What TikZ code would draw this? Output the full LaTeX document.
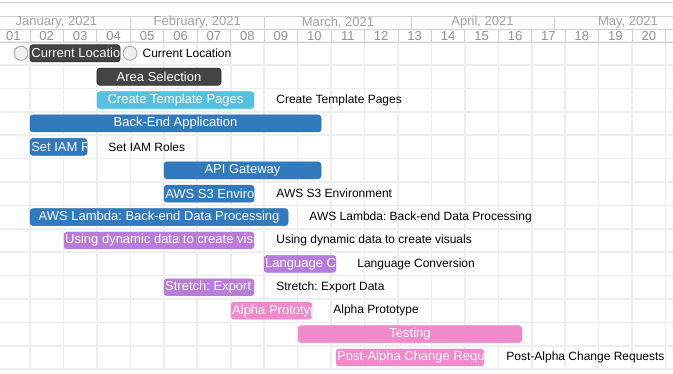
\documentclass[tikz,border=0pt]{standalone}
\usepackage{fontspec}
\setmainfont{Liberation Sans}
\usetikzlibrary{positioning}
\frenchspacing
\definecolor{gantdark}{RGB}{68,68,68}
\definecolor{gantcyan}{RGB}{86,192,224}
\definecolor{gantblue}{RGB}{49,122,190}
\definecolor{gantpurple}{RGB}{185,124,218}
\definecolor{gantpink}{RGB}{240,138,202}
\definecolor{headline}{RGB}{208,208,208}
\definecolor{headtext}{RGB}{160,160,160}
\definecolor{gridgray}{RGB}{238,238,238}
\tikzset{
  bar/.style={
    rectangle, rounded corners=3pt, minimum height=17pt, inner sep=0pt,
    text=white, font=\fontsize{13}{15}\selectfont
  },
  bardark/.style={bar, fill=gantdark, draw=gantdark!60!black, line width=0.8pt},
  barcyan/.style={bar, fill=gantcyan, draw=gantcyan},
  barblue/.style={bar, fill=gantblue, draw=gantblue!90!black, line width=0.5pt},
  barpurple/.style={bar, fill=gantpurple, draw=gantpurple},
  barpink/.style={bar, fill=gantpink, draw=gantpink},
  cliptext/.style={
    path picture={
      \node[anchor=west, inner sep=1pt, text=white,
            font=\fontsize{13}{15}\selectfont]
        at (path picture bounding box.west) {#1};
    }
  },
  extlabel/.style={inner sep=0pt, font=\fontsize{12}{14}\selectfont, text=black},
  milestone/.style={
    circle, minimum size=14pt, inner sep=0pt, draw=gray!75, fill=gray!12,
    line width=0.8pt
  },
  monthlabel/.style={font=\fontsize{13}{15}\selectfont, text=headtext, inner sep=0pt},
  weeklabel/.style={font=\fontsize{13}{15}\selectfont, text=headtext!90!black, inner sep=0pt},
  gridline/.style={draw=gridgray, line width=1.6pt},
  headrule/.style={draw=headline, line width=0.9pt}
}

\begin{document}
\begin{tikzpicture}[x=1pt, y=-1pt]
  \useasboundingbox[fill=white] (0,0) rectangle (673,374);

  % body grid
  \foreach \i in {0,...,14}
    \draw[gridline] (0,{41.6+23.4*\i}) -- (673,{41.6+23.4*\i});
  \foreach \k in {0,...,19}
    \draw[gridline] ({30+33.45*\k},41.6) -- ({30+33.45*\k},369.2);

  % header
  \draw[headrule] (0,2.5) -- (673,2.5);
  \draw[headrule] (0,16) -- (673,16);
  \draw[headrule] (0,29) -- (673,29);
  \draw[headrule] (0,42) -- (673,42);
  \foreach \x in {130.4,264,411.7,554}
    \draw[headrule] (\x,16) -- (\x,29);
  \foreach \k in {0,...,19}
    \draw[headrule] ({30+33.45*\k},29) -- ({30+33.45*\k},42);

  \node[monthlabel] (jan) at (56.4,22.6) {January, 2021};
  \node[monthlabel] (feb) at (197.2,22.6) {February, 2021};
  \node[monthlabel] (mar) at (338,22.6) {March, 2021};
  \node[monthlabel] (apr) at (482.5,22.6) {April, 2021};
  \node[monthlabel] (may) at (628,22.6) {May, 2021};

  \foreach \w [count=\n] in {01,02,03,04,05,06,07,08,09,10,11,12,13,14,15,16,17,18,19,20}
    \node[weeklabel] (wk\n) at ({30+33.45*(\n-1.5)},35.8) {\w};

  % tasks
  \node[milestone] (locstart) at (21,53.3) {};
  \node[bardark, minimum width=90pt, cliptext={Current Location}] (loc) at (75,53.3) {};
  \node[milestone] (locend) at (130,53.3) {};
  \node[extlabel, right=22pt of loc] (loclbl) {Current Location};

  \node[bardark, minimum width=124pt] (area) at (159,76.7) {Area Selection};

  \node[barcyan, minimum width=157pt] (tmpl) at (175.5,100.1) {Create Template Pages};
  \node[extlabel, right=22pt of tmpl] (tmpllbl) {Create Template Pages};

  \node[barblue, minimum width=291pt] (back) at (175.5,123.5) {Back-End Application};

  \node[barblue, minimum width=57pt, cliptext={Set IAM Roles}] (iam) at (58.5,146.9) {};
  \node[extlabel, right=21pt of iam] (iamlbl) {Set IAM Roles};

  \node[barblue, minimum width=157pt] (api) at (242.5,170.3) {API Gateway};

  \node[barblue, minimum width=90pt, cliptext={AWS S3 Environment}] (s3) at (209,193.7) {};
  \node[extlabel, right=22pt of s3] (s3lbl) {AWS S3 Environment};

  \node[barblue, minimum width=258pt] (lambda) at (159,217.1) {AWS Lambda: Back-end Data Processing};
  \node[extlabel, right=21pt of lambda] (lambdalbl) {AWS Lambda: Back-end Data Processing};

  \node[barpurple, minimum width=190pt, cliptext={Using dynamic data to create visuals}] (visual) at (159,240.5) {};
  \node[extlabel, right=22pt of visual] (visuallbl) {Using dynamic data to create visuals};

  \node[barpurple, minimum width=72pt, cliptext={Language Conversion}] (lang) at (300,263.9) {};
  \node[extlabel, right=21pt of lang] (langlbl) {Language Conversion};

  \node[barpurple, minimum width=90pt, cliptext={Stretch: Export Data}] (export) at (209,287.3) {};
  \node[extlabel, right=22pt of export] (exportlbl) {Stretch: Export Data};

  \node[barpink, minimum width=81pt, cliptext={Alpha Prototype}] (alpha) at (271.5,310.7) {};
  \node[extlabel, right=21pt of alpha] (alphalbl) {Alpha Prototype};

  \node[barpink, minimum width=224pt] (test) at (410,334.1) {Testing};

  \node[barpink, minimum width=148pt, cliptext={Post-Alpha Change Requests}] (post) at (410,357.5) {};
  \node[extlabel, right=22pt of post] (postlbl) {Post-Alpha Change Requests};
\end{tikzpicture}
\end{document}
